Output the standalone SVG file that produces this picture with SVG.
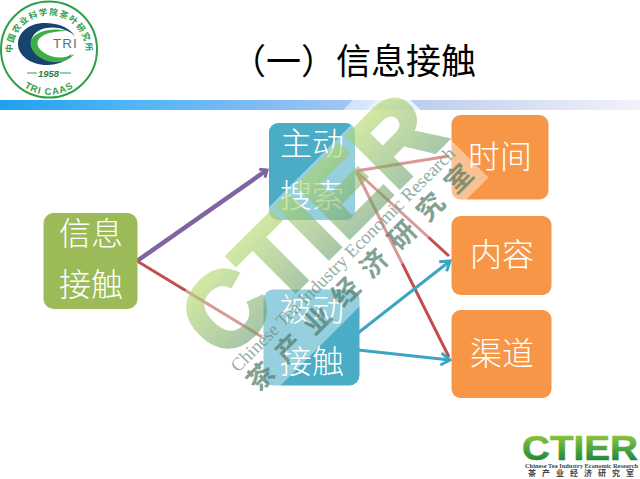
<svg xmlns="http://www.w3.org/2000/svg" width="640" height="479" viewBox="0 0 640 479">
<style>
.cjk{font-family:"Noto Sans CJK SC","Liberation Serif",serif;font-weight:400}
.n{font-size:32px;fill:#fff;text-anchor:middle;font-family:"Noto Sans CJK SC","Liberation Serif",serif;font-weight:300}
.red{stroke:#C0504D;stroke-width:3;fill:none}
.blue{stroke:#3BA5C2;stroke-width:3;fill:none;marker-end:url(#ab)}
.lg{fill:#2E9E4A;font-family:"Noto Sans CJK SC","Liberation Sans",sans-serif;font-weight:700}
</style>
<defs>
<linearGradient id="hb" x1="0" x2="640" y1="0" y2="0" gradientUnits="userSpaceOnUse">
<stop offset="0" stop-color="#1EA0EE"/><stop offset=".2" stop-color="#4DB5F8"/><stop offset=".4" stop-color="#7FBBF5"/><stop offset=".7" stop-color="#C5D3EE"/><stop offset="1" stop-color="#F2F2FA"/>
</linearGradient>
<linearGradient id="wm" x1="0" x2="0" y1="-74" y2="0" gradientUnits="userSpaceOnUse">
<stop offset="0" stop-color="#ADD55B"/><stop offset="1" stop-color="#649B64"/>
</linearGradient>
<linearGradient id="lo" x1="0" x2="0" y1="435" y2="460" gradientUnits="userSpaceOnUse">
<stop offset="0" stop-color="#8CC63F"/><stop offset="1" stop-color="#1E8A3C"/>
</linearGradient>
<marker id="ap" markerUnits="userSpaceOnUse" markerWidth="14" markerHeight="14" refX="9" refY="6" orient="auto"><path d="M3 1L9 6L3 11" fill="none" stroke="#8064A2" stroke-width="3"/></marker>
<marker id="ab" markerUnits="userSpaceOnUse" markerWidth="16" markerHeight="16" refX="11" refY="7" orient="auto"><path d="M2 1L11 7L2 13" fill="none" stroke="#3BA5C2" stroke-width="3"/></marker>
<path id="arcTop" d="M12 52A37 37 0 0 1 86 52"/>
<path id="arcBot" d="M14 78A45 45 0 0 0 84 78"/>
</defs>
<rect width="640" height="479" fill="#fff"/>
<rect x="0" y="100" width="640" height="10" fill="url(#hb)"/>
<polygon points="353,100 410,100 420,110 343,110" fill="#fff" opacity=".55"/>
<text x="231" y="74" font-size="35" fill="#000" class="cjk">（一）信息接触</text>
<g id="logo">
<circle cx="49" cy="49.500" r="48" fill="#fff" stroke="#2E9E4A" stroke-width="2"/>
<text class="lg" font-size="8.500" letter-spacing="1.300"><textPath href="#arcTop" startOffset="50%" text-anchor="middle">中国农业科学院茶叶研究所</textPath></text>
<text class="lg" font-size="9.500" letter-spacing="1" style="font-family:'Liberation Sans',sans-serif"><textPath href="#arcBot" startOffset="50%" text-anchor="middle">TRI CAAS</textPath></text>
<path d="M75 36C68 26 56 23 45 23C28 23 18 33 18 44C18 55 30 65 47 65C58 65 67 61 72 54C64 60 50 61 40 56C28 50 28 36 40 30C52 25 66 28 75 36Z" fill="#17446E"/>
<path d="M67 31C52 27 36 31 31 40C28 50 40 61 53 62C62 63 69 60 75 54C66 59 52 59 43 52C35 46 36 39 44 35C50 32 60 31 67 31Z" fill="#3FAE49"/>
<text x="53" y="48" font-size="13.500" fill="#5A7080" letter-spacing="1" font-family="Liberation Sans, sans-serif">TRI</text>
<path d="M27 73H37M60 73H71" stroke="#2E9E4A" stroke-width="1"/>
<text x="48.500" y="77" text-anchor="middle" font-size="9.500" font-style="italic" font-weight="700" fill="#2E7D45" font-family="Liberation Sans, sans-serif">1958</text>
</g>
<g id="connectors">
<path d="M137 261L267 170" stroke="#8064A2" stroke-width="4.500" fill="none" marker-end="url(#ap)"/>
<path class="red" d="M137 261L262 337"/>
<path class="red" d="M356 171L449 156M356 171L449 256M356 171L449 357"/>
<path class="blue" d="M358 333L450 261"/>
<path class="blue" d="M358 350L450 360"/>
</g>
<g id="node-xinxi"><rect x="43.500" y="213" width="94" height="96" rx="10" fill="#9BBB59"/><text class="n" x="91" y="245">信息</text><text class="n" x="91" y="296">接触</text></g>
<g id="node-zhudong"><rect x="269" y="123" width="86" height="97" rx="9" fill="#4BACC6"/><text class="n" x="312" y="155">主动</text><text class="n" x="312" y="207">搜索</text></g>
<g id="node-beidong"><rect x="263.500" y="289.500" width="96" height="96" rx="10" fill="#4BACC6"/><text class="n" x="312" y="321">被动</text><text class="n" x="312" y="373">接触</text></g>
<g id="node-shijian"><rect x="451.500" y="115" width="97" height="84.500" rx="9" fill="#F79646"/><text class="n" x="500" y="168">时间</text></g>
<g id="node-neirong"><rect x="451.500" y="216" width="100" height="79" rx="9" fill="#F79646"/><text class="n" x="502" y="266">内容</text></g>
<g id="node-qudao"><rect x="451.500" y="310" width="100" height="88" rx="9" fill="#F79646"/><text class="n" x="502" y="365">渠道</text></g>
<g id="watermark">
<polygon points="393.500,82.500 488.500,177.500 258,408 163,313" fill="#fff" opacity=".42"/>
<text transform="translate(224 363) rotate(-45)" font-size="106" font-weight="700" fill="url(#wm)" stroke="url(#wm)" stroke-width="4" opacity=".55" font-family="Liberation Sans, sans-serif">CTIER</text>
<text transform="translate(238 373) rotate(-45)" font-size="18.500" fill="#6F9484" opacity=".75" font-family="Liberation Serif, serif">Chinese Tea Industry Economic Research</text>
<text transform="translate(258 393) rotate(-45)" font-size="27" font-weight="700" letter-spacing="13" fill="#4F7A66" opacity=".7" font-family="Noto Sans CJK SC, sans-serif">茶产业经济研究室</text>
</g>
<g id="logo-ctier">
<text x="522" y="460" font-size="35" font-weight="700" fill="url(#lo)" stroke="url(#lo)" stroke-width=".6" textLength="116" lengthAdjust="spacingAndGlyphs" font-family="Liberation Sans, sans-serif">CTIER</text>
<text x="525" y="468" font-size="6" font-weight="700" fill="#444" textLength="113" lengthAdjust="spacingAndGlyphs" font-family="Liberation Serif, serif">Chinese Tea Industry Economic Research</text>
<text x="528" y="476" font-size="8" font-weight="700" fill="#444" letter-spacing="6" font-family="Noto Sans CJK SC, sans-serif">茶产业经济研究室</text>
</g>
</svg>
